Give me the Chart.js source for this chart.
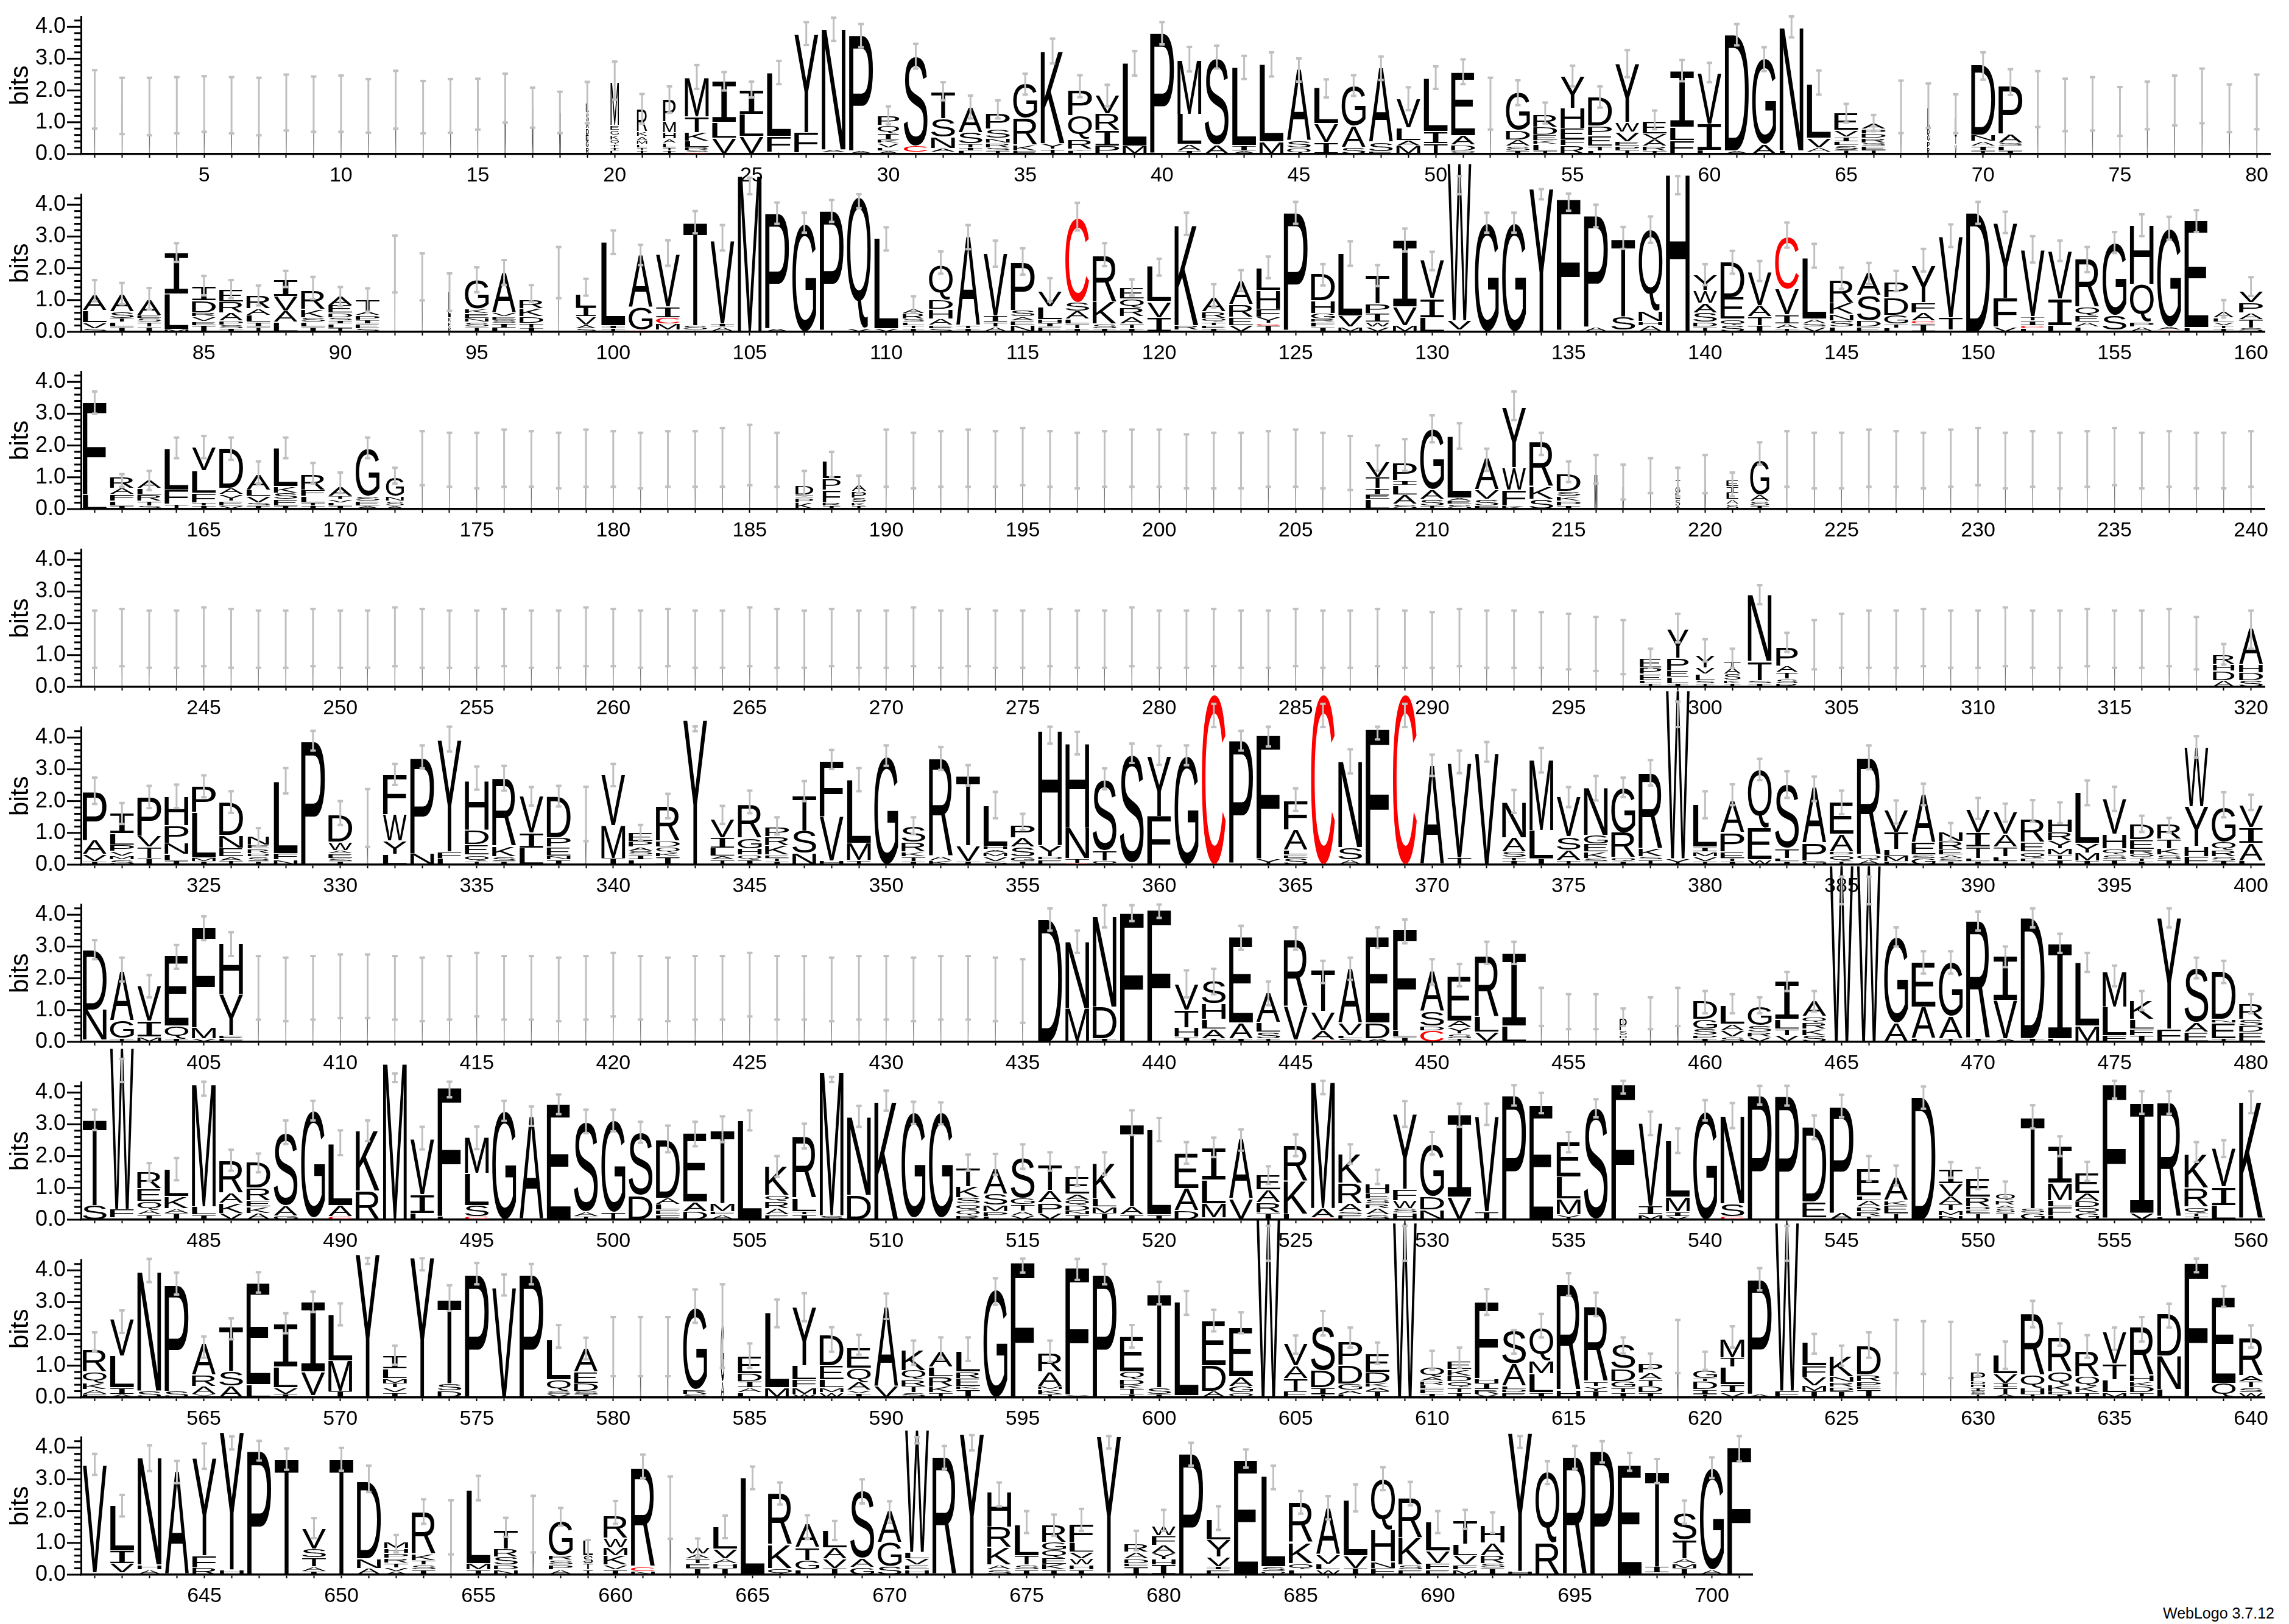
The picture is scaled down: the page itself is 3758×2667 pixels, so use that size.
<!DOCTYPE html>
<html>
<head>
<meta charset="utf-8">
<style>
  html, body { margin: 0; padding: 0; background: #fff; }
  body { position: relative; width: 3758px; height: 2667px; overflow: hidden; }
  canvas { position: absolute; left: 0; }
  #credit { position: absolute; left: 3551px; top: 2635px; font: 25px "Liberation Sans"; color: #000; white-space: nowrap; }
</style>
<script src="https://cdn.jsdelivr.net/npm/chart.js@4"></script>
</head>
<body>
<div id="credit">WebLogo 3.7.12</div>
<script>
// each position: letters bottom to top, letter + height in bits
const stacks1 = ["M1.66","M1.48","M1.46","M1.48","M1.58","M1.48","M1.46","M1.6","M1.53","M1.55",
"M1.48","M1.78","M1.5","M1.5","M1.53","M1.82","M1.45","M1.3","R.2 G.2 E.2 D.2 A.2 S.3 L.3",
"L.1 I.1 T.1 Q.15 K.15 G.15 E.15 M1.35","I.1 T.1 L.1 M.13 A.13 K.15 R.7","I.1 T.1 L.15 A.12 H.2 M.35 P.7","C.03 S.08 R.1 L.2 K.26 T.5 M1.22",
"V.5 L.5 I1.3","V.55 L.7 I.77","A.05 F.5 L2.0","S.03 F.65 Y3.1","E.03 A.1 N3.8","A.1 P3.63","A.1 L.1 V.15 K.1 I.2 Q.25 P.3",
"V.05 C.2 S2.83","L.05 A.13 N.35 S.58 T.85","L.1 I.1 T.12 S.35 A.8","T.1 S.1 R.15 N.15 S.28 P.5","E.1 K.18 R.85 G1.1","T.15 Y.18 K2.9",
"L.1 I.05 R.3 Q.75 P.78","P.25 I.5 R.52 V.6","M.25 L2.6","A.03 P3.77","I.1 A.2 L.95 M1.7","A.28 S2.72","A.1 I.17 L2.45","M.38 L2.44",
"Q.18 S.22 A2.26","I.36 V.6 L1.12","S.2 A.68 G1.27","E.08 S.28 A2.35","M.25 A.17 L.4 V.9","T.32 I.38 L1.67","Q.1 D.18 A.3 E2.0","M1.57",
"I.1 S.15 A.2 D.3 G1.2","T.1 L.2 K.13 E.17 D.24 R.4","R.26 F.2 E.35 H.63 Y1.0","L.1 T.15 E.33 P.3 D.9","T.12 P.12 E.15 V.3 W.3 Y1.85",
"T.1 R.14 A.22 V.18 E.4","F.42 L.42 I1.78","L.12 I.82 V1.6","A.1 D3.65","A.3 G2.7","L.1 N3.87","S.05 A.15 V.3 L1.7","T.12 S.15 L.12 I.15 V.2 E.55",
"T.12 E.12 S.1 R.15 D.15 P.15 A.18","M1.5","R.2 P.2 G.2 D.2 L.65","V.3 T.3 L.55","T.1 I.15 A.15 N.2 D2.2","I.1 L.15 S.1 A.28 P1.5",
"M1.7","M1.5","M1.55","M1.3","M1.5","M1.65","M1.8","M1.4","M1.6"];
const hi1 = [2.64,2.4,2.4,2.42,2.45,2.42,2.4,2.5,2.44,2.47,2.36,2.62,2.3,2.36,2.37,2.53,2.09,1.96,2.27,2.91,1.89,2.13,2.8,2.58,2.28,2.93,
4.15,4.29,4.09,1.5,3.47,2.26,1.84,1.69,2.53,3.63,2.48,2.18,3.24,4.15,3.37,3.41,3.09,3.2,3.01,2.35,2.48,3.07,2.1,2.76,2.98,2.4,
2.32,1.62,2.78,2.13,3.27,1.37,2.96,2.87,4.09,3.36,4.33,2.63,1.58,1.23,2.31,2.22,1.88,3.2,2.67,2.61,2.37,2.42,2.11,2.28,2.47,2.69,2.19,2.5];
const lo1 = [.8,.63,.59,.65,.7,.65,.59,.74,.7,.7,.67,.8,.65,.67,.77,.99,.83,.66,.97,1.71,.96,1.3,2.05,2.0,1.78,2.2,
3.43,3.56,3.36,.93,2.69,1.69,1.12,1.12,1.87,2.85,1.79,1.5,2.47,3.45,2.6,2.69,2.36,2.44,2.28,1.78,1.83,2.33,1.38,2.05,2.2,.77,
1.54,.96,2.13,1.46,2.42,.78,2.29,2.26,3.42,2.61,3.67,1.87,.99,.72,.66,.82,.66,2.34,1.86,.85,.72,.74,.57,.78,.9,.97,.69,.78];
const occ1 = [.03,.03,.03,.03,.03,.03,.03,.03,.03,.03,.03,.03,.03,.03,.03,.05,.06,.07,.12,.35,.43,.53,1,1,1,1,1,1,1,.9,
1,1,1,1,1,1,1,1,1,1,1,1,1,1,1,1,1,1,1,1,1,.03,1,1,1,1,1,1,1,1,1,1,1,1,1,1,.03,.1,.08,1,1,.03,.03,.03,.03,.03,.03,.03,.03,.03];

const stacks2 = ["S.1 V.18 L.38 A.5","I.15 L.15 T.12 S.2 A.55","I.15 T.15 S.12 E.1 A.5","M.08 L1.1 I1.3","I.2 E.12 V.15 R.13 D.38 I.45","I.1 S.12 P.12 A.25 R.35 E.4",
"T.15 I.15 L.22 A.2 R.42","L.3 A.35 V.47 I.52","I.15 L.15 S.15 K.25 R.6","T.12 L.13 I.1 S.1 D.14 E.24 A.3","S.1 E.15 I.12 P.15 A.12 T.38","M2.13","M1.8","R.15 E.15 K.15 L.8",
"T.15 S.15 N.12 E.15 K.15 G.9","L.12 I.15 S.1 E.1 V.12 A1.26","I.12 T.15 D.2 K.25 R.28","M1.9","S.1 A.12 V.25 I.3 L.42","T.1 I.1 L2.62",
"C.05 G.7 A1.67","A.05 M.2 C.2 I.33 V1.65","A.05 S.15 T3.25","A.15 I.1 V2.6","M4.9","A.1 P3.62","G3.4","L.05 P3.75","V.1 Q4.1","V.1 L2.85",
"I.1 T.1 L.1 S.1 R.17 A.15","S.1 E.1 A.2 H.3 D.3 Q1.1","I.1 T.1 A2.8","A.15 T.15 I.2 V1.97","N.2 E.15 A.13 S.2 P1.5","E.15 I.12 H.12 L.4 V.5",
"I.1 T.15 L.15 A.25 S.27 C2.65","I.1 S.15 K.68 R1.47","I.1 T.15 A.22 R.28 Q.28 E.34","I.45 V.5 L1.1",
"S.05 R.15 K3.15","I.1 E.1 T.1 Q.12 R.2 A.45","V.2 E.25 R.4 A.75","I.18 C.08 Y.2 F.24 H.6 L.7","A.05 P3.69","I.15 F.15 R.1 G.18 H.4 D.85","M.15 V.35 L1.97",
"V.15 W.15 I.28 P.3 T.9","M.2 V.58 I2.1","L.45 I.6 V1.2","T.05 V.3 W4.95","G3.42","G3.42","Y4.5","L.05 F4.12","A.15 P3.5","I.05 S.43 T2.44",
"A.2 H.12 N.33 Q2.55","H4.94","T.15 D.15 S.3 A.3 W.4 Y.5","S.2 Q.2 E.68 D1.13","I.2 T.27 A.35 V1.05","T.1 A.15 I.28 V.8 C1.65","V.15 S.1 A.15 L1.92",
"L.15 S.2 N.2 K.35 R.72","E.15 D.2 S.8 A.72","L.12 T.12 G.28 D.55 P.48","I.25 C.1 A.25 F.32 Y1.15","I.05 T.4 V2.55","D3.74","V.15 F.9 Y2.35","L.1 C.1 I.15 T.13 V2.1",
"L.2 I.83 V1.5","L.15 A.15 E.2 Q.28 R1.5","P.06 S.47 G2.27","A.15 P.15 Q1.2 H1.85","C.05 A.1 G3.08","L.13 E3.36","I.1 T.1 V.1 L.13 A.2","S.12 T.27 A.2 P.32 V.35"];
const hi2 = [1.63,1.54,1.38,2.79,1.76,1.63,1.46,1.92,1.73,1.41,1.37,3.03,2.47,1.84,2.03,2.26,1.47,2.67,1.67,3.19,
2.74,2.88,3.8,3.36,4.85,4.07,3.75,4.15,4.33,3.29,1.12,2.53,3.36,2.87,2.63,1.69,4.06,2.79,1.65,2.3,
3.75,1.5,1.94,2.37,4.09,2.13,2.85,2.1,3.25,2.52,4.9,3.75,3.75,4.49,4.35,4.0,3.3,3.63,4.9,2.13,2.55,2.23,3.44,2.77,
2.02,2.17,1.92,2.61,3.38,4.09,3.78,3.01,2.87,2.67,3.14,3.7,3.62,3.83,1.0,1.72];
const lo2 = [.96,.87,.7,2.2,1.15,1.06,.83,1.41,1.03,.81,.64,1.24,.99,.66,1.25,1.47,.95,1.06,1.14,2.45,
2.1,2.08,3.1,2.56,4.33,3.4,3.12,3.46,3.89,2.56,.6,1.83,2.6,2.05,1.8,.96,3.19,2.07,1.14,1.77,
3.05,.77,1.28,1.69,3.4,1.46,2.08,1.44,2.53,1.94,4.33,3.12,3.12,4.17,3.81,3.29,2.61,2.8,4.33,1.47,1.83,1.6,2.65,2.02,
1.35,1.5,1.28,1.9,2.67,3.4,3.11,2.18,2.23,1.88,2.48,3.01,2.9,3.14,.45,1.13];
const occ2 = [1,1,1,1,1,1,1,1,1,1,1,.03,.03,.1,1,1,1,.03,.85,1,1,1,1,1,1,1,1,1,1,1,.9,1,1,1,1,1,1,1,1,1,
1,1,1,1,1,1,1,1,1,1,1,1,1,1,1,1,1,1,1,1,1,1,1,1,1,1,1,1,1,1,1,1,1,1,1,1,1,1,.85,1];

const stacks3 = ["L.45 F2.9","I.1 L.15 F.2 A.2 R.35","S.1 T.15 R.2 L.2 A.25","T.15 F.45 L1.3","I.1 T.1 F.3 L.7 V.75","V.1 E.15 Y.2 A.2 D1.25","I.1 S.1 V.2 L.2 A.5","I.1 E.2 S.2 K.2 L1.2",
"I.1 T.1 L.2 F.2 R.5","I.1 L.1 V.1 T.1 A.3","A.1 E.15 S.15 G1.5","A.1 S.15 N.15 G.6",
"M1.55","M1.5","M1.5","M1.55","M1.5","M1.5","M1.55","M1.55","M1.5","M1.55","M1.55","M1.6","M1.6","M1.5",
"K.2 P.15 I.1 D.3","I.1 R.1 F.4 P.35 L.55","I.1 K.1 S.15 P.2 A.2",
"M1.55","M1.5","M1.55","M1.55","M1.55","M1.6","M1.55","M1.5","M1.55","M1.55","M1.6","M1.5","M1.5","M1.5","M1.55","M1.55","M1.5","M1.4",
"L.3 E.15 I.2 T.35 V.5","S.15 A.3 L.3 I.15 P.55","T.1 S.2 A.3 G1.9","S.15 E.1 A.1 L1.95","F.1 S.2 V.3 A1.0","K.1 F.5 W.7 Y1.9","S.3 K.4 R1.4","I.1 P.15 K.15 S.15 D.55",
"M1.1","M.7","M.9","A.1 S.2 L.2 G.2 T.2","M1.0","S.15 A.15 L.2 I.2 E.2","I.1 S.15 A.2 G1.1",
"M1.55","M1.5","M1.5","M1.55","M1.55","M1.5","M1.55","M1.6","M1.5","M1.55","M1.5","M1.55","M1.6","M1.5","M1.55","M1.5","M1.5","M1.55"];
const hi3 = [3.7,1.1,1.2,2.25,2.3,2.25,1.5,2.25,1.45,1.15,2.25,1.3,
2.45,2.4,2.4,2.5,2.45,2.4,2.5,2.45,2.4,2.45,2.45,2.55,2.65,2.4,1.2,1.8,1.05,
2.5,2.4,2.45,2.5,2.45,2.55,2.45,2.4,2.45,2.5,2.5,2.35,2.4,2.4,2.45,2.5,2.4,2.3,
2.0,2.2,2.95,2.7,1.9,3.7,2.4,1.5,1.7,1.4,1.6,1.3,1.7,1.15,2.1,
2.45,2.4,2.4,2.5,2.45,2.4,2.5,2.55,2.4,2.45,2.4,2.45,2.55,2.4,2.45,2.4,2.4,2.45];
const lo3 = [3.0,.7,.6,1.6,1.6,1.55,.8,1.6,.8,.5,1.6,.8,
.75,.7,.65,.7,.7,.65,.7,.7,.65,.7,.7,.7,.75,.7,.4,1.0,.5,
.7,.65,.7,.7,.7,.75,.7,.65,.7,.7,.7,.65,.65,.65,.7,.7,.65,.6,
1.2,1.2,2.1,1.9,1.2,2.8,1.7,.85,.8,.3,.5,.4,.5,.4,1.4,
.7,.65,.65,.7,.7,.65,.7,.75,.65,.7,.65,.7,.75,.65,.7,.65,.65,.7];
const occ3 = [1,1,1,1,1,1,1,1,1,1,1,.75,.03,.03,.03,.03,.03,.03,.03,.03,.03,.03,.03,.03,.03,.03,.75,.75,.6,
.03,.03,.03,.03,.03,.03,.03,.03,.03,.03,.03,.03,.03,.03,.03,.03,.03,.03,1,1,1,1,1,1,1,1,.12,.06,.03,.2,.05,.5,.8,
.03,.03,.03,.03,.03,.03,.03,.03,.03,.03,.03,.03,.03,.03,.03,.03,.03,.03];

const stacks4 = ["M1.5","M1.55","M1.5","M1.5","M1.55","M1.5","M1.5","M1.55","M1.5","M1.5","M1.55","M1.5","M1.55","M1.5","M1.5","M1.55","M1.5","M1.5","M1.55",
"M1.5","M1.5","M1.55","M1.5","M1.5","M1.55","M1.5","M1.5","M1.55","M1.5","M1.5","M1.55","M1.5","M1.55","M1.5","M1.5","M1.55","M1.5","M1.5",
"M1.55","M1.5","M1.5","M1.55","M1.5","M1.5","M1.55","M1.5","M1.5","M1.55","M1.5","M1.5","M1.55","M1.5","M1.5","M1.5","M1.4","M1.3","M1.2",
"T.1 L.1 E.2 P.2 E.3","I.1 L.2 E.2 P.4 Y.9","T.1 S.1 L.2 V.2 Y.4","I.1 K.1 S.2 A.2 T.2","I.1 S.1 T.6 N2.1","R.1 S.15 T.2 A.2 P.6",
"M1.3","M1.4","M1.5","M1.5","M1.55","M1.5","M1.5","M1.55","M1.5","M1.5","M1.55","M1.5","M1.5","M1.55","M1.4",
"A.2 D.3 H.2 R.3","S.2 D.25 H.25 A1.15"];
const hi4 = [2.4,2.45,2.4,2.4,2.5,2.45,2.4,2.4,2.45,2.4,2.4,2.5,2.45,2.4,2.4,2.45,2.4,2.4,2.5,
2.45,2.4,2.45,2.4,2.4,2.5,2.45,2.4,2.45,2.4,2.4,2.5,2.4,2.45,2.4,2.4,2.45,2.4,2.4,
2.5,2.4,2.4,2.45,2.4,2.4,2.45,2.4,2.4,2.45,2.4,2.35,2.45,2.4,2.4,2.35,2.3,2.2,2.1,
1.2,2.3,1.5,1.2,3.2,1.7,2.1,2.3,2.4,2.4,2.45,2.4,2.4,2.5,2.4,2.4,2.45,2.4,2.4,2.45,2.2,1.35,2.4];
const lo4 = [.6,.65,.6,.6,.65,.6,.6,.6,.65,.6,.6,.65,.6,.6,.6,.65,.6,.6,.65,
.65,.6,.65,.6,.6,.65,.6,.6,.65,.6,.6,.65,.6,.65,.6,.6,.65,.6,.6,
.65,.6,.6,.65,.6,.6,.65,.6,.6,.65,.6,.6,.65,.6,.6,.6,.55,.5,.4,
.6,1.4,.8,.6,2.6,1.1,.55,.6,.6,.6,.65,.6,.6,.65,.6,.6,.65,.6,.6,.65,.55,.7,1.2];
const occ4 = [.03,.03,.03,.03,.03,.03,.03,.03,.03,.03,.03,.03,.03,.03,.03,.03,.03,.03,.03,.03,.03,.03,.03,.03,.03,.03,.03,.03,.03,
.03,.03,.03,.03,.03,.03,.03,.03,.03,.03,.03,.03,.03,.03,.03,.03,.03,.03,.03,.03,.03,.03,.03,.03,.03,.03,.03,.03,
.9,.9,.8,.7,1,.9,.03,.03,.03,.03,.03,.03,.03,.03,.03,.03,.03,.03,.03,.03,.03,.9,1];

const stacks5 = ["I.1 V.22 A.45 P1.53","S.15 M.12 V.15 P.2 L.35 I.63","I.2 T.35 V.35 P1.22","I.12 L.2 N.35 P.55 H.9","I.1 M.12 L1.42 P.8","T.12 A.12 E.28 N.4 D1.03","I.1 S.15 D.1 R.15 E.12 N.28",
"N.15 F.2 L2.27","P3.87","I.1 S.1 E.15 A.1 W.25 D.85","M1.47","L.32 Y.42 W.83 F1.26","N.35 P3.0","L.2 F.2 Y3.52","T.1 Q.2 E.33 D.45 H1.55","I.1 S.15 K.32 R2.12",
"L.52 I.48 V1.15","I.15 N.12 E.28 P.3 D1.3","M1.6","I.2 M1.03 V1.6","L.15 I.15 S.12 A.13 P.18 E.27","I.25 K.12 Q.18 D.18 R1.1","Y4.55","T.15 A.12 L.25 I.33 V.6",
"I.15 Q.15 H.2 G.33 R1.05","I.1 T.1 E.1 K.3 R.28 P.3","N.35 S.7 T1.12","H.12 V1.4 F1.75","T.13 M.55 L1.99","G3.4","I.1 T.15 K.15 R.3 S.5","K.12 A.15 R3.06","I.1 V.5 T2.2",
"S.1 V.15 M.12 A.1 H.1 L1.28","I.1 G.15 S.3 A.3 P.4","E.15 D.1 Y.35 H3.6","C.04 T.15 N.96 H2.65","Q.12 T.33 S2.23","A.05 S3.41","F1.52 Y1.9","G3.42",
"C5.35","L.05 P3.85","Y.18 F3.89","S.2 E.1 L.15 A.65 F.9","C5.35","A.15 S.38 N2.7","F4.26","C5.35","A3.11","T.22 V2.98","V3.5","I.12 T.1 S.18 A.45 N1.1","I.2 L.88 M2.2",
"T.13 A.33 S.42 V1.25","T.1 S.1 K.2 E.25 G.27 N1.5","I.1 Q.12 R.78 G1.42","T.15 S.1 K.25 R2.37","Y.18 W5.3","T.1 V.15 M.15 I.15 L1.33","I.1 T.1 E.2 P.6 A1.0","W.15 E1.0 Q1.82",
"I.1 L.1 T.3 S2.0","G.12 P.55 A1.75","T.1 Q.2 D.1 A.55 E1.0","A.15 Q.15 R3.05","F.1 M.17 L.2 T.55 V.7","G.2 S.1 E.4 A1.5","I.1 S.1 A.1 E.17 R.25 N.3","I.1 L.1 T.35 I.45 V.75",
"I.1 L.15 T.3 A.4 V.68","T.1 F.1 Q.2 E.3 R.72","I.15 T.15 M.2 Y.25 R.27 H.42","I.12 M.25 Y.3 L1.6","I.15 S.15 Q.2 H.45 V1.1","I.1 T.1 Q.13 R.15 E.3 D.5","I.15 S.15 K.2 T.3 R.48",
"F.25 H.32 Y1.25 W1.87","I.12 S.12 R.2 Q.28 G1.1","L.12 A.55 I.5 V.7"];
const hi5 = [2.74,1.94,2.48,2.52,2.81,2.31,1.15,3.04,4.21,2.0,2.38,3.17,3.75,4.34,3.09,3.11,2.44,2.48,2.45,3.17,1.25,2.23,4.35,1.85,2.33,1.49,2.63,3.61,3.04,3.75,
1.49,3.7,3.13,2.29,1.6,4.34,4.18,3.03,3.81,3.74,3.75,5.06,4.21,4.34,2.4,5.06,3.63,4.34,5.06,3.46,3.59,3.86,2.35,3.67,2.44,2.79,2.74,3.29,5.13,2.31,2.53,3.33,
2.94,2.77,2.33,3.75,2.02,2.55,1.31,2.1,1.92,2.03,1.96,2.65,2.45,1.54,1.47,4.04,2.28,2.2];
const lo5 = [1.91,1.28,1.78,1.78,2.12,1.63,.59,2.24,3.59,1.25,.56,2.51,3.03,3.56,2.36,2.33,1.86,1.83,.74,2.47,.76,1.46,4.2,1.28,1.62,.95,2.0,3.01,2.31,3.11,
.96,2.98,2.49,1.46,1.09,3.81,3.47,2.37,3.2,3.14,3.13,4.33,3.59,3.72,1.69,4.33,2.87,3.94,4.33,2.79,2.88,3.24,1.63,2.9,1.81,2.02,2.13,2.49,4.33,1.46,1.87,2.66,
2.1,2.0,1.59,3.0,1.29,1.87,.74,1.44,1.35,1.35,1.31,1.87,1.69,1.03,1.01,3.37,1.49,1.72];
const occ5 = [1,1,1,1,1,1,.9,1,1,1,.04,1,1,1,1,1,1,1,.04,1,1,1,1,1,1,1,1,1,1,1,1,1,1,1,1,1,1,1,1,1,
1,1,1,1,1,1,1,1,1,1,1,1,1,1,1,1,1,1,1,1,1,1,1,1,1,1,1,1,1,1,1,1,1,1,1,1,1,1,1,1];

const stacks6 = ["I.05 N.95 D1.9","T.1 G.55 A1.55","M.15 I.5 V1.1","I.1 Q.4 E2.2","V.1 M.35 F3.15","F.1 E.1 Y1.3 H1.6",
"M1.6","M1.55","M1.6","M1.6","M1.65","M1.6","M1.55","M1.6","M1.65","M1.6","M1.6","M1.55","M1.6","M1.65","M1.6","M1.55","M1.6","M1.6","M1.65","M1.6","M1.6","M1.55","M1.6","M1.6","M1.55","M1.6","M1.6","M1.55","M1.5",
"D3.85","M1.05 N2.1","I.1 D1.0 N2.85","F4.05","F4.15","I.15 H.3 T.55 V.8","I.1 A.3 L.3 H.5 S.7","I.1 A.5 E2.7","T.1 S.2 L.3 A.95","A.05 V1.05 R2.1","C.05 A.3 V.6 T1.3","S.1 L.1 V.4 A1.7",
"A.1 D.5 E2.7","I.15 L.2 F3.2","C.35 D.15 S.45 A1.25","T.1 S.15 Y.2 A.2 E1.4","V.3 L.5 R1.9","L.5 I2.3",
"M1.0","M.9","M.9","I.1 D.1 S.15 P.4","M.8","M1.1",
"I.1 P.1 S.2 G.3 D.6","S.15 V.2 A.2 L.6","V.15 R.15 S.2 G.6","V.2 T.2 L.3 I1.2","S.2 K.2 R.2 Q.2 A.5","W5.55","W5.55","A.6 G2.7","L.1 A1.0 E1.4","T.1 A.7 G1.7","I.1 R3.7","A.1 V1.2 I1.4",
"I.1 D3.8","L.1 I3.0","M.5 L2.0","F.2 L.9 M1.1","I.2 F.2 L.3 K.6","F.4 Y3.5","E.3 A.3 S1.7","T.1 E.5 N.1 D1.5","E.3 D.2 S.2 R.5"];
const hi6 = [3.2,2.65,2.1,3.05,3.95,3.45,2.7,2.65,2.7,2.75,2.75,2.7,2.65,2.7,2.8,2.7,2.7,2.65,2.7,2.8,2.7,2.65,2.7,2.7,2.8,2.7,2.7,2.65,2.7,2.7,2.65,2.7,2.7,2.65,2.6,
4.2,3.5,4.3,4.3,4.32,2.25,2.3,3.65,1.9,3.6,2.55,2.65,3.6,3.85,2.6,2.45,3.15,3.15,1.7,1.5,1.5,1.05,1.4,1.7,1.6,1.5,1.4,2.2,1.6,5.2,5.2,3.6,2.85,2.85,4.1,3.0,
4.2,3.4,2.8,2.4,1.6,4.2,2.65,2.55,1.5];
const lo6 = [2.6,1.9,1.4,2.3,3.2,2.7,.7,.65,.7,.75,.75,.7,.65,.7,.8,.7,.7,.65,.7,.8,.7,.65,.7,.7,.8,.7,.7,.65,.7,.7,.65,.7,.7,.65,.6,
3.5,2.8,3.6,3.8,3.9,1.4,1.5,2.9,1.15,2.9,1.85,1.95,2.95,3.1,1.8,1.75,2.45,2.45,.5,.4,.4,.5,.4,.5,.9,.9,.9,1.6,.95,4.33,4.33,3.0,2.15,2.15,3.5,2.35,
3.6,2.8,2.2,1.75,1.0,3.6,2.0,1.85,.9];
const occ6 = [1,1,1,1,1,1,.03,.03,.03,.03,.03,.03,.03,.03,.03,.03,.03,.03,.03,.03,.03,.03,.03,.03,.03,.03,.03,.03,.03,.03,.03,.03,.03,.03,.03,
1,1,1,1,1,1,1,1,1,1,1,1,1,1,1,1,1,1,.03,.03,.03,.3,.04,.05,1,1,1,1,1,1,1,1,1,1,1,1,1,1,1,1,1,1,1,1,1];

const stacks7 = ["S.45 T2.69","S.05 F.27 W5.08","I.15 A.15 Q.28 E.4 R.53","I.2 A.15 K.38 L.85","I.15 L.25 M3.85","V.2 K.32 A.32 R1.02","A.2 K.2 E.2 R.4 D.8","G.12 A.33 S2.29","V.05 G3.37","C.1 A.35 L1.95",
"R.9 K1.89","M4.9","L.19 I.6 V1.74","L.1 F4.05","C.1 S.35 L1.0 M1.13","G3.41","A3.23","E3.63","T.1 A.15 S2.83","T.22 G2.89","D.75 S1.98","F.15 E.15 L.17 A.2 D1.85","D.25 A.3 E2.15","A.15 F.1 M.25 T2.3","L3.13",
"E.15 A.2 R.22 Q.2 K.9","I.15 T.1 L.42 R1.93","S.12 M4.52","D.77 N2.45","K3.7","L.05 G3.3","L.05 G3.3","R.12 Q.17 Q.2 S.2 K.35 T.6","L.1 P.15 M.2 S.35 A.8","V.12 A.15 T.2 G.2 S1.28","V.2 P.33 A.38 T.8",
"I.15 N.12 D.18 Q.17 A.18 E.55","I.2 M.2 L.25 K1.1","I.15 A.25 T2.6","I.15 L2.67",
"D.28 A.7 E1.1","V.05 M.45 L.75 I1.02","V.65 A1.87","I.2 R.33 A.4 E.47","L.18 K1.03 R1.12","C.05 A.3 M3.97","E.15 S.1 A.25 R.65 K.9","S.15 A.2 R.15 S.15 E.17 H.3","H.2 S.15 W.25 F.35 Y2.37","N.3 D.42 G1.65",
"V.7 I2.6","I.25 V3.0","P3.9","E3.6","Y.15 M.5 L.7 E1.1","S3.5","F4.25","M.15 I.28 V2.6","V.1 I.15 M.45 L1.78","G3.4","C.1 S.4 N2.75","P3.9","P3.88","D.05 E.5 D2.35","A.22 P3.33",
"T.1 R.15 D.15 A.2 L.15 E.85","T.2 E.25 K.15 A.72","D3.85","N.13 M.15 T.2 A.25 V.4 I.45","T.2 E.1 D.1 R.3 E.6","I.2 S.15 A.1 R.15 Q.22","G.2 S.15 T2.87","L.12 F.28 L.2 M.55 I1.15","G.2 Q.18 D.2 A.25 E.65",
"L.05 F4.2","V.2 I3.48","L.08 R3.6","I.1 T.1 Q.2 R.6 K1.05","L.45 I.58 V1.2","I.05 K3.65"];
const hi7 = [3.46,5.06,1.78,1.94,4.34,2.2,2.08,3.12,3.74,2.81,3.12,4.6,2.92,4.34,2.93,3.74,3.56,3.94,3.46,3.46,3.08,2.96,3.08,3.25,3.44,2.0,3.02,4.49,3.58,4.06,3.71,3.69,2.05,2.07,2.37,2.12,1.65,2.12,3.44,3.2,
2.44,2.58,2.84,1.68,2.68,4.37,2.37,1.57,3.73,2.76,3.65,3.65,4.23,3.99,2.76,3.79,4.37,3.4,2.87,3.76,3.67,4.21,4.21,3.28,3.93,2.0,1.7,4.19,1.81,1.63,1.2,3.6,2.62,1.82,4.37,4.04,4.04,2.44,2.5,4.04];
const lo7 = [2.82,4.33,1.22,1.24,3.9,1.54,1.49,2.38,3.12,2.03,2.47,4.33,2.21,3.85,2.22,3.11,2.95,3.32,2.72,2.78,2.42,2.12,2.31,2.44,2.81,1.35,2.24,4.33,2.92,3.43,3.01,3.0,1.54,1.41,1.6,1.54,1.06,1.41,2.66,2.47,
1.76,1.97,2.17,1.12,2.0,3.95,1.76,1.12,2.92,2.05,2.92,2.98,3.59,3.35,2.12,3.22,3.97,2.66,2.1,3.12,2.88,3.62,3.59,2.53,3.22,1.22,1.08,3.49,1.32,.96,.7,2.87,2.0,1.22,3.81,3.33,3.33,1.82,1.97,3.35];
const occ7 = [1,1,1,1,1,1,1,1,1,1,1,1,1,1,1,1,1,1,1,1,1,1,1,1,1,1,1,1,1,1,1,1,1,1,1,1,1,1,1,1,
1,1,1,1,1,1,1,1,1,1,1,1,1,1,1,1,1,1,1,1,1,1,1,1,1,1,1,1,1,1,.8,1,1,1,1,1,1,1,1,1];

const stacks8 = ["F.1 A.15 K.2 Q.35 R.7","A.1 I.2 L1.0 V1.15","S.2 N3.75","S.2 P3.35","Y.1 A.25 R.35 A1.0","A.35 S.45 T1.4","L.4 E3.2","I.1 V.2 L.65 I1.35","L.05 V.75 I2.2","I.2 M.95 L1.45",
"Y4.5","I.15 V.15 T.15 M.15 L.3 I.4","Y4.4","D.2 S.22 T2.65","P3.85","V3.45","P3.85","V.1 S.1 Q.35 L1.25","I.1 S.1 D.25 E.35 A.75","M1.5",
"M1.5","M1.5","S.1 R.15 G2.55","A.5 G1.8","L.15 A.15 I.2 D.25 E.55","M.3 L2.35","W.1 M.2 F.25 L.45 Y1.85","W.15 M.15 L.25 E.45 D.95","I.12 V.1 A.25 Q.45 E.65","V.35 A2.5",
"S.15 T.2 R.2 Q.3 K.65","T.15 K.2 R.3 L.3 A.5","I.25 K.1 E.25 R.2 L.65","G3.4","F4.24","T.1 K.15 M.1 A.45 R.6","Y.08 F4.0","P3.85","I.1 T.17 K.12 D.17 Q.25 E1.1","I.1 S.2 T2.95",
"V.05 L2.95","A.2 D.8 E1.4","Q.15 G.2 A.3 E1.55","W5.6","E.2 T.4 A.4 V.7","T.1 I.2 D.55 S1.4","L.1 A.12 G.2 D.6 P.75","I.2 A.12 K.12 D.35 E.6","W5.5","I.12 F.15 L.12 R.12 A.13 Q.3",
"I.15 T.15 Q.2 D.18 K.2 E.25","V.1 R.15 I.2 H.15 F2.4","E.15 D.1 L.1 A.7 S1.05","I.15 L.6 M.4 Q1.05","H.22 R3.35","I.2 Y.15 T.15 R2.35","I.15 T.15 G.2 D.4 S.75","I.15 D.2 T.2 A.22 P.3","M1.6","T.1 I.15 D.25 T.1 G.25",
"V.15 I.25 L.55 T.3 M.6","A.1 P3.6","F.2 W5.3","I.2 M.17 V.27 F.35 L.75","I.2 D.13 R.15 N.17 K.65","I.25 E.1 P.15 R.2 D.9","M1.6","M1.55","M1.5","T.1 S.1 I.1 H.1 D.1 P.3",
"A.1 T.2 I.15 V.3 L.6","T.1 H.2 Q.4 R1.93","I.1 H.1 K.2 Q.4 R1.1","T.15 K.2 Q.3 R.8","M.15 L.4 T.5 V1.0","T.15 D.2 K.15 H.2 R1.5","L.25 N1.05 D1.33","F4.22","Q.45 E2.7","W.15 S.15 T.2 A.18 R1.2"];
const hi8 = [2.05,2.74,4.36,3.93,1.92,2.49,3.94,2.65,3.33,2.96,4.39,1.63,4.38,3.53,4.23,3.87,4.2,2.28,1.88,2.53,2.53,2.53,3.4,3.56,1.7,3.08,3.28,2.21,1.97,3.27,
1.79,1.89,1.89,3.75,4.37,1.79,4.36,4.2,2.28,3.64,3.35,2.76,2.68,5.4,1.95,2.72,2.2,1.73,5.4,1.47,1.57,3.41,2.12,2.63,3.91,3.3,1.89,1.38,2.44,1.44,
2.24,4.07,5.4,2.0,1.63,2.05,2.44,2.4,2.38,1.35,1.76,3.04,2.33,1.96,2.2,2.53,2.95,4.37,3.5,2.27];
const lo8 = [1.47,2.03,3.63,3.24,1.25,1.83,3.3,2.02,2.69,2.27,4.2,1.03,4.0,2.72,3.56,3.21,3.56,1.57,1.2,.67,.67,.67,2.35,.93,.93,2.21,2.4,1.44,1.35,2.47,
1.03,1.19,1.15,2.92,3.93,1.12,3.7,3.56,1.57,2.93,2.6,2.08,2.02,4.3,1.38,1.95,1.57,1.06,4.3,.87,.93,2.6,1.38,1.89,3.2,2.56,1.38,.93,.77,.87,
1.57,3.37,4.3,1.38,1.0,1.25,.77,.74,.61,.67,.9,2.21,1.63,1.25,1.5,1.76,2.2,3.94,2.85,1.57];
const occ8 = [1,1,1,1,1,1,1,1,1,1,1,1,1,1,1,1,1,1,1,.04,.04,.04,1,.14,1,1,1,1,1,1,1,1,1,1,1,1,1,1,1,1,
1,1,1,1,1,1,1,1,1,1,1,1,1,1,1,1,1,1,.05,1,1,1,1,1,1,1,.03,.03,.03,.6,1,1,1,1,1,1,1,1,1,1];

const stacks9 = ["I.05 V3.4","H.05 V.3 I.4 L1.42","A.15 H.15 N3.37","A3.24","R.22 F.38 Y3.08","H.15 Y4.33","P3.88","T3.65","I.1 A.15 T.28 S.28 V.65","T3.65","A.2 N.3 D2.44","A.1 V.12 T.15 R.15 P.15 H.15 M.2",
"I.15 S.15 T.15 K.2 R1.3","M1.5","I.15 M.2 L2.3","N.15 D.15 S.25 R.25 T.6","M1.6","A.15 P.15 S.15 R.15 G1.1","I.15 T.2 S.25 L.5","I.15 V.15 K.3 M.25 W.3 R.7","N.1 C.15 R3.1","M2.1","I.2 E.15 T.15 A.15 W.2",
"I.2 H.15 A.15 V.3 L.7","L3.05","Q.2 K.75 R1.6","L.15 G.3 T.4 A.75","I.2 V.3 A.35 L.55","G.22 A.28 S2.15","S.25 G.75 A1.0","H.15 E.15 V.2 L.2 W3.85","R3.7","Y4.42","S.15 A.15 K.55 R.65 H1.1","I.15 S.15 T.3 L.95",
"I.15 K.17 E.2 Q.25 G.25 R.55","I.15 H.15 W.2 V.2 L.3 F.6","N.05 Y4.3","I.25 F.1 D.15 A.2 R.25","I.3 H.17 Y.2 A.25 F.3 W.3","P3.8","E.15 I.1 V.3 Y.55 L.65","E3.6","Q.1 S.15 L2.85","L.15 Q.2 K.65 R1.25","W.15 L.17 V.3 A1.45",
"I.2 V.4 L1.75","F.2 N.2 H1.0 Q1.6","E.15 S.15 K.85 R1.25","E.15 F.2 V.4 L.9","M.15 F.15 V.3 L.35 T.75","I.2 S.15 R.25 A.4 H.55","H.1 Y4.35","R1.0 Q2.25","R3.7","P3.88","E3.45","M.05 I.2 T3.0","I.2 M.15 A.15 T.6 S.85","A.15 G3.18","F4.0"];
const hi9 = [3.8,2.51,4.07,3.58,4.13,4.35,4.21,3.97,1.78,3.99,3.43,1.25,2.37,2.34,3.11,1.79,2.48,2.1,1.09,2.32,3.78,3.09,1.14,1.86,3.4,2.9,1.87,1.69,3.0,2.31,4.33,4.05,4.39,2.9,2.0,
1.89,2.07,4.36,1.38,2.04,4.15,2.15,3.94,3.43,2.63,2.47,2.84,3.38,2.92,2.0,2.04,1.96,4.36,3.57,4.05,4.2,3.83,3.64,2.33,3.69,4.36];
const lo9 = [3.14,1.83,3.26,2.88,3.33,3.94,3.59,3.3,1.15,3.27,2.6,.7,1.6,.64,2.34,1.19,.7,1.54,.45,1.6,3.04,1.13,.54,1.15,2.69,2.21,1.12,1.09,2.24,1.63,4.13,3.33,3.91,2.15,1.31,
1.22,1.38,3.97,.77,1.38,3.43,1.41,3.37,2.69,1.92,1.74,1.99,2.66,2.18,1.31,1.44,1.31,3.99,2.85,3.33,3.53,3.27,2.88,1.6,3.04,3.56];
const occ9 = [1,1,1,1,1,1,1,1,1,1,1,1,1,.04,1,1,.05,1,.4,1,1,.05,1,1,1,1,1,1,1,1,1,1,1,1,1,1,1,1,1,1,1,1,1,1,1,1,1,1,1,1,1,1,1,1,1,1,1,1,1,1,1];

const firstPositions = [1, 81, 161, 241, 321, 401, 481, 561, 641];
const allStacks = [stacks1, stacks2, stacks3, stacks4, stacks5, stacks6, stacks7, stacks8, stacks9];
const allHi = [hi1, hi2, hi3, hi4, hi5, hi6, hi7, hi8, hi9];
const allLo = [lo1, lo2, lo3, lo4, lo5, lo6, lo7, lo8, lo9];
const allOcc = [occ1, occ2, occ3, occ4, occ5, occ6, occ7, occ8, occ9];

const barColor = (ch) => (ch === "C" ? "#ff0000" : "#000000");

function parseStack(s) {
  return s.split(" ").map((t) => ({ ch: t[0], h: parseFloat(t.slice(1)) }));
}

function drawGlyph(ctx, ch, x, top, w, h) {
  // the I of the logo has serifs, the sans one would be a plain block
  // very narrow columns use the bold cut or they fade to grey
  const weight = w < 5 ? "bold" : "normal";
  ctx.font = ch === "I" ? weight + " 200px 'Liberation Mono'" : weight + " 200px 'Liberation Sans'";
  ctx.textAlign = "left";
  ctx.textBaseline = "alphabetic";
  ctx.fillStyle = barColor(ch);
  const m = ctx.measureText(ch);
  const gw = m.actualBoundingBoxLeft + m.actualBoundingBoxRight;
  const gh = m.actualBoundingBoxAscent + m.actualBoundingBoxDescent;
  ctx.save();
  ctx.translate(x - w / 2, top);
  ctx.scale(w / gw, h / gh);
  ctx.fillText(ch, m.actualBoundingBoxLeft, m.actualBoundingBoxAscent);
  ctx.restore();
}

const logoPlugin = {
  id: "logo",
  afterDatasetsDraw(chart) {
    const ctx = chart.ctx;
    const o = chart.options.plugins.logo;
    const y = chart.scales.y;
    chart.data.datasets.forEach((ds, k) => {
      chart.getDatasetMeta(k).data.forEach((bar, i) => {
        const item = o.stacks[i][k];
        if (!item) return;
        const h = Math.abs(bar.base - bar.y);
        drawGlyph(ctx, item.ch, bar.x, bar.y + 0.5, bar.width * o.occ[i], Math.max(h - 1.5, 1));
      });
    });
    // error bars on top of the letters
    ctx.save();
    ctx.fillStyle = "#c0c0c0";
    const xs = chart.scales.x;
    o.hi.forEach((hv, i) => {
      const px = xs.getPixelForValue(i);
      const top = y.getPixelForValue(hv);
      const bot = y.getPixelForValue(o.lo[i]);
      ctx.fillRect(px - 1.5, top, 3, bot - top);
      ctx.fillRect(px - 4.5, top - 2, 9, 4);
      ctx.fillRect(px - 4.5, bot - 2, 9, 4);
    });
    ctx.restore();
    // y axis ticks, long on whole bits, short on the 0.2 steps
    ctx.save();
    ctx.fillStyle = "#000";
    y.ticks.forEach((t) => {
      const py = y.getPixelForValue(t.value);
      const major = Math.abs(t.value - Math.round(t.value)) < 0.01;
      const len = major ? 23 : 11;
      ctx.fillRect(chart.chartArea.left - len, py - 1.5, len, 3);
    });
    ctx.restore();
  },
};

const bitsPx = 52.2;
allStacks.forEach((rowStacks, r) => {
  const parsed = rowStacks.map(parseStack);
  const layers = Math.max(...parsed.map((s) => s.length));
  const labels = rowStacks.map((_, i) => String(firstPositions[r] + i));
  const datasets = [];
  for (let k = 0; k < layers; k++) {
    datasets.push({
      data: parsed.map((s) => (s[k] ? s[k].h : 0)),
      backgroundColor: "rgba(0,0,0,0)",
      borderWidth: 0,
      barPercentage: 0.87,
      categoryPercentage: 1,
      stack: "logo",
    });
  }
  const base = 253 + r * 291.67;
  const above = 335;
  const canvas = document.createElement("canvas");
  canvas.width = 133 + rowStacks.length * 45;
  canvas.height = above + 60;
  canvas.style.top = base - above + "px";
  canvas.style.width = canvas.width + "px";
  canvas.style.height = canvas.height + "px";
  document.body.appendChild(canvas);
  new Chart(canvas, {
    type: "bar",
    data: { labels: labels, datasets: datasets },
    plugins: [logoPlugin],
    options: {
      responsive: false,
      animation: false,
      devicePixelRatio: 1,
      events: [],
      layout: { padding: { top: above - 4.32 * bitsPx, left: 0, right: 0, bottom: 0 } },
      plugins: {
        legend: { display: false },
        title: { display: false },
        tooltip: { enabled: false },
        logo: { stacks: parsed, hi: allHi[r], lo: allLo[r], occ: allOcc[r] },
      },
      scales: {
        x: {
          stacked: true,
          offset: true,
          afterFit(s) { s.height = 60; },
          border: { display: true, color: "#000", width: 3.5 },
          grid: { display: true, drawOnChartArea: false, drawTicks: true, tickLength: 6, tickWidth: 2, tickColor: "#000", offset: false },
          ticks: {
            autoSkip: false,
            maxRotation: 0,
            minRotation: 0,
            padding: 9,
            color: "#000",
            font: { family: "'Liberation Sans'", size: 34 },
            callback(v) {
              const lab = this.getLabelForValue(v);
              return Number(lab) % 5 === 0 ? lab : "";
            },
          },
        },
        y: {
          stacked: true,
          min: 0,
          max: 4.32,
          afterFit(s) { s.width = 133; },
          border: { display: true, color: "#000", width: 3 },
          grid: { display: false, drawTicks: false },
          title: { display: true, text: "bits", color: "#000", font: { family: "'Liberation Sans'", size: 42 }, padding: { top: 9, bottom: 0 } },
          ticks: {
            stepSize: 0.2,
            includeBounds: false,
            autoSkip: false,
            padding: 25,
            color: "#000",
            font: { family: "'Liberation Sans'", size: 36 },
            callback(v) {
              return Math.abs(v - Math.round(v)) < 0.01 ? v.toFixed(1) : "";
            },
          },
        },
      },
    },
  });
});
</script>
</body>
</html>
